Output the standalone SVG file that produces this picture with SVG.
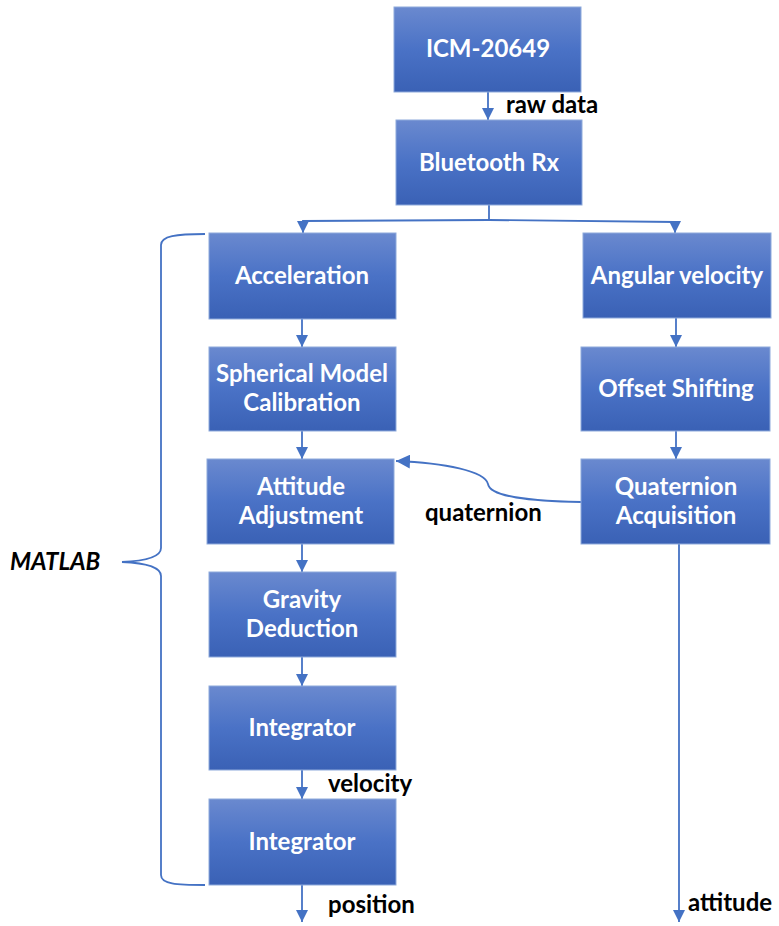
<svg xmlns="http://www.w3.org/2000/svg" width="779" height="926" viewBox="0 0 779 926">
<defs>
<linearGradient id="g" x1="0" y1="0" x2="0" y2="1">
<stop offset="0" stop-color="#6a89cf"/>
<stop offset="0.5" stop-color="#4a72c6"/>
<stop offset="1" stop-color="#3a61b5"/>
</linearGradient>
<marker id="ah" viewBox="0 0 10 10" refX="10" refY="5" markerWidth="12" markerHeight="12" markerUnits="userSpaceOnUse" orient="auto">
<path d="M0,0 L10,5 L0,10 Z" fill="#4472c4"/>
</marker>
<marker id="ahq" viewBox="0 0 10 10" refX="10" refY="5" markerWidth="14" markerHeight="14" markerUnits="userSpaceOnUse" orient="auto">
<path d="M0,0 L10,5 L0,10 Z" fill="#4472c4"/>
</marker>
</defs>
<style>
.box{fill:url(#g);stroke:#8eaadb;stroke-width:1}
.t{font-family:Lato,"Liberation Sans",sans-serif;font-weight:700;font-size:24px;fill:#ffffff;text-anchor:middle}
.lbl{font-family:Lato,"Liberation Sans",sans-serif;font-weight:700;font-size:24px;fill:#000000}
.c{stroke:#4472c4;stroke-width:1.8;fill:none}
.ca{stroke:#4472c4;stroke-width:1.8;fill:none;marker-end:url(#ah)}
</style>
<rect width="779" height="926" fill="#ffffff"/>
<g id="connectors">
<line class="ca" x1="488" y1="92" x2="488" y2="120"/>
<path class="c" d="M489,205 L489,220"/>
<polyline class="c" points="489,220 303,221 303,224"/>
<path class="ca" d="M303,221 L303,233"/>
<polyline class="c" points="489,220 675,222"/>
<path class="ca" d="M675,222 L675,233"/>
<line class="ca" x1="302" y1="319" x2="302" y2="347"/>
<line class="ca" x1="302" y1="431" x2="302" y2="459"/>
<line class="ca" x1="302" y1="544" x2="302" y2="572"/>
<line class="ca" x1="302" y1="657" x2="302" y2="686"/>
<line class="ca" x1="302" y1="770" x2="302" y2="799"/>
<line class="ca" x1="302" y1="885" x2="302" y2="922"/>
<line class="ca" x1="676" y1="318" x2="676" y2="347"/>
<line class="ca" x1="676" y1="431" x2="676" y2="459"/>
<line class="ca" x1="679" y1="544" x2="679" y2="922"/>
<path class="c" style="marker-end:url(#ahq)" d="M581,502 C530,501 490,497 488,484 C485,471 445,463 396,461"/>
<path class="c" d="M205,234 C176,234 161,236 161,245 L161,548 C161,557 145,561 122,562 C145,563 161,567 161,576 L161,875 C161,884 176,885 205,885"/>
</g>
<g id="n-icm"><rect class="box" x="394" y="7" width="187" height="85"/><text class="t" x="488" y="57">ICM-20649</text></g>
<g id="n-bt"><rect class="box" x="396" y="120" width="186" height="85"/><text class="t" x="489" y="171">Bluetooth Rx</text></g>
<g id="n-acc"><rect class="box" x="209" y="233" width="187" height="86"/><text class="t" x="302" y="284">Acceleration</text></g>
<g id="n-sph"><rect class="box" x="209" y="347" width="187" height="84"/><text class="t" x="302" y="382">Spherical Model</text><text class="t" x="302" y="411">Calibration</text></g>
<g id="n-att"><rect class="box" x="207" y="459" width="187" height="85"/><text class="t" x="301" y="495">Attitude</text><text class="t" x="301" y="524">Adjustment</text></g>
<g id="n-grav"><rect class="box" x="209" y="572" width="187" height="85"/><text class="t" x="302" y="608">Gravity</text><text class="t" x="302" y="637">Deduction</text></g>
<g id="n-int1"><rect class="box" x="209" y="686" width="187" height="84"/><text class="t" x="302" y="736">Integrator</text></g>
<g id="n-int2"><rect class="box" x="209" y="799" width="187" height="86"/><text class="t" x="302" y="850">Integrator</text></g>
<g id="n-ang"><rect class="box" x="583" y="233" width="188" height="85"/><text class="t" x="677" y="284">Angular velocity</text></g>
<g id="n-off"><rect class="box" x="581" y="347" width="189" height="84"/><text class="t" x="676" y="397">Offset Shifting</text></g>
<g id="n-quat"><rect class="box" x="581" y="459" width="189" height="85"/><text class="t" x="676" y="495">Quaternion</text><text class="t" x="676" y="524">Acquisition</text></g>
<text class="lbl" x="506" y="113">raw data</text>
<text class="lbl" x="425" y="521">quaternion</text>
<text class="lbl" x="328" y="792">velocity</text>
<text class="lbl" x="328" y="913">position</text>
<text class="lbl" x="688" y="911">attitude</text>
<text class="lbl" x="10" y="570" style="font-style:italic">MATLAB</text>
</svg>
